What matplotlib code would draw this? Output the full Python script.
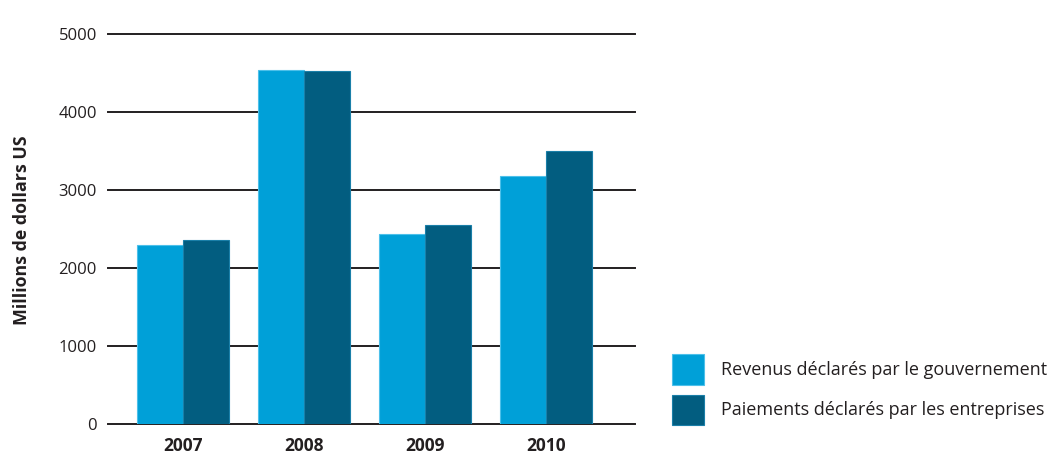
import numpy as np
import matplotlib
matplotlib.use('Agg')
import matplotlib.pyplot as plt

plt.rcParams['font.family'] = ['Open Sans', 'DejaVu Sans']

# Data [millions USD]
years = ['2007', '2008', '2009', '2010']
revenus_gouv = [2290, 4540, 2440, 3180]
paiements_entr = [2360, 4520, 2545, 3500]
labels = ['Revenus déclarés par le gouvernement',
          'Paiements déclarés par les entreprises']
yticks = [0, 1000, 2000, 3000, 4000, 5000]

c_light = '#00A0D8'
c_dark = '#025D80'

fig = plt.figure(figsize=(10.55, 4.57), dpi=100)
ax = fig.add_axes([0.1024, 0.0722, 0.4995, 0.8534])

x = np.arange(len(years))
w = 0.38
b1 = ax.bar(x - w / 2, revenus_gouv, w, color=c_light, edgecolor='#4DC0EA',
            linewidth=0.8, zorder=3, label=labels[0])
b2 = ax.bar(x + w / 2, paiements_entr, w, color=c_dark, edgecolor='#1A7FA8',
            linewidth=0.8, zorder=3, label=labels[1])

ax.set_xlim(-0.617, 3.738)
ax.set_ylim(0, 5000)
ax.set_yticks(yticks)
ax.set_yticklabels([str(v) for v in yticks], fontsize=12, color='#231F20')
ax.set_xticks(x)
ax.set_xticklabels(years, fontsize=12.5, fontweight='bold', color='#231F20')
ax.tick_params(axis='both', length=0, pad=8)
ax.tick_params(axis='x', pad=9)

for v in yticks:
    ax.axhline(v, color='#231F20', linewidth=1.4, zorder=1, clip_on=False)

for s in ax.spines.values():
    s.set_visible(False)

fig.text(0.021, 0.497, 'Millions de dollars US', rotation=90, fontsize=12.8,
         fontweight='bold', color='#231F20', ha='center', va='center')

fig.legend(handles=[b1, b2], loc='lower left', bbox_to_anchor=(0.622, 0.035),
           frameon=False, fontsize=13, handlelength=1.77, handleheight=2.2,
           handletextpad=0.9, labelspacing=0.55, labelcolor='#231F20')

fig.savefig('out.png', dpi=100)
